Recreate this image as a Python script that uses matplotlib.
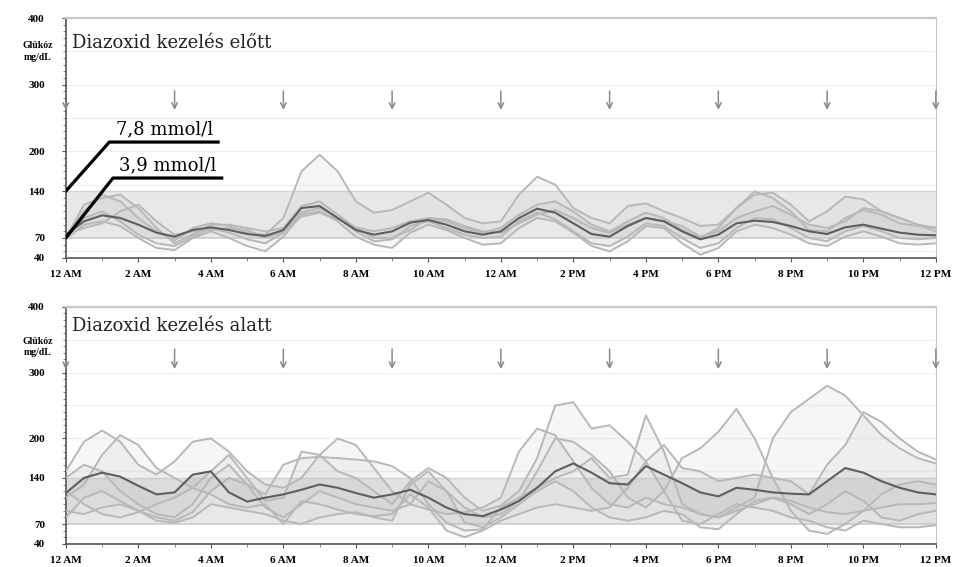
import matplotlib
matplotlib.use('Agg')
import matplotlib.pyplot as plt
import numpy as np

# time axis (hours after midnight, every 30 min)
hours = np.arange(0, 24.5, 0.5)

xtick_hours = [0, 2, 4, 6, 8, 10, 12, 14, 16, 18, 20, 22, 24]
xtick_labels = ['12 AM', '2 AM', '4 AM', '6 AM', '8 AM', '10 AM', '12 AM',
                '2 PM', '4 PM', '6 PM', '8 PM', '10 PM', '12 PM']
ytick_values = [40, 70, 140, 200, 300, 400]
target_low, target_high = 70, 140
meal_hours = [0, 3, 6, 9, 12, 15, 18, 21, 24]

# glucose curves before treatment (mg/dL)
before_mean = [75, 95, 104, 100, 90, 78, 72, 82, 86, 82, 76, 73, 82, 115, 118, 100, 82,
               75, 80, 93, 97, 90, 80, 75, 80, 100, 114, 108, 92, 76, 72, 88, 100, 95,
               80, 68, 75, 92, 96, 94, 88, 80, 76, 86, 90, 84, 78, 75, 74]
before_1 = [72, 110, 135, 125, 100, 80, 66, 85, 92, 88, 78, 75, 100, 170, 195, 170, 125,
            108, 112, 125, 138, 120, 100, 92, 95, 135, 162, 150, 115, 100, 92, 118, 122,
            110, 100, 88, 90, 115, 135, 138, 120, 95, 110, 132, 128, 110, 100, 90, 85]
before_2 = [70, 120, 130, 135, 115, 85, 62, 75, 90, 90, 85, 80, 85, 118, 125, 105, 85,
            70, 70, 82, 100, 95, 85, 78, 85, 105, 120, 125, 110, 90, 80, 95, 108, 100,
            82, 70, 85, 115, 140, 130, 110, 82, 80, 100, 112, 105, 92, 88, 86]
before_3 = [68, 90, 95, 88, 70, 55, 52, 70, 80, 70, 58, 50, 72, 105, 110, 95, 72, 60, 55,
            78, 90, 82, 70, 60, 62, 85, 100, 95, 78, 58, 50, 65, 88, 85, 62, 45, 55, 80,
            90, 85, 75, 62, 58, 72, 80, 72, 62, 60, 62]
before_4 = [70, 100, 110, 95, 75, 62, 58, 72, 85, 78, 68, 62, 78, 108, 115, 100, 80, 65,
            68, 88, 95, 85, 75, 70, 72, 95, 108, 98, 80, 62, 58, 72, 92, 88, 70, 55, 62,
            85, 100, 98, 85, 70, 65, 80, 88, 80, 70, 68, 70]
before_5 = [75, 85, 92, 110, 120, 95, 75, 80, 82, 85, 82, 70, 80, 102, 108, 98, 86, 80,
            85, 95, 100, 98, 88, 80, 78, 92, 105, 112, 100, 85, 78, 90, 100, 96, 88, 72,
            80, 100, 110, 118, 105, 90, 85, 95, 115, 110, 100, 90, 80]

# glucose curves during treatment (mg/dL)
during_mean = [117, 140, 148, 142, 128, 115, 118, 145, 150, 118, 104, 110, 115, 122, 130,
               125, 117, 110, 115, 122, 110, 95, 85, 82, 92, 105, 125, 150, 162, 148, 132,
               130, 158, 145, 132, 118, 112, 125, 122, 118, 116, 115, 135, 155, 148, 135,
               125, 118, 115]
during_1 = [150, 195, 212, 195, 160, 145, 165, 195, 200, 180, 150, 130, 125, 140, 175, 200,
            190, 155, 120, 100, 92, 85, 88, 95, 110, 180, 215, 205, 165, 125, 100, 95, 110,
            100, 95, 85, 80, 90, 100, 110, 105, 95, 88, 85, 90, 95, 100, 100, 102]
during_2 = [110, 130, 175, 205, 190, 155, 140, 125, 150, 175, 140, 105, 110, 180, 175, 150,
            140, 120, 100, 135, 155, 140, 110, 90, 98, 120, 170, 250, 255, 215, 220, 195,
            165, 190, 155, 150, 135, 140, 145, 140, 135, 115, 160, 190, 240, 225, 200, 180,
            168]
during_3 = [90, 85, 95, 100, 90, 80, 75, 88, 120, 140, 130, 115, 160, 170, 172, 170, 168,
            165, 158, 140, 100, 72, 60, 62, 95, 110, 125, 140, 150, 170, 140, 145, 235, 180,
            100, 85, 80, 95, 110, 200, 240, 260, 280, 265, 235, 205, 185, 170, 162]
during_4 = [140, 160, 150, 120, 100, 85, 80, 100, 140, 160, 130, 95, 80, 100, 120, 110, 100,
            95, 90, 100, 135, 120, 95, 80, 85, 105, 150, 200, 195, 175, 150, 110, 95, 120,
            170, 185, 210, 245, 200, 140, 90, 60, 55, 70, 90, 115, 130, 135, 130]
during_5 = [80, 110, 120, 105, 90, 75, 72, 80, 100, 95, 90, 85, 75, 70, 80, 85, 88, 80, 75,
            130, 150, 120, 72, 65, 80, 100, 120, 135, 120, 95, 80, 75, 80, 90, 85, 65, 62,
            85, 105, 110, 100, 85, 100, 120, 105, 80, 75, 85, 90]
during_6 = [120, 100, 85, 80, 88, 100, 110, 125, 115, 100, 95, 100, 70, 105, 100, 92, 85,
            82, 85, 115, 95, 60, 50, 60, 75, 85, 95, 100, 95, 90, 95, 125, 165, 120, 75, 70,
            85, 100, 95, 90, 80, 75, 65, 60, 75, 70, 65, 65, 68]

panels = [
    ('Diazoxid kezelés előtt', before_mean,
     [before_1, before_2, before_3, before_4, before_5]),
    ('Diazoxid kezelés alatt', during_mean,
     [during_1, during_2, during_3, during_4, during_5, during_6]),
]

serif = 'Liberation Serif'
wide_serif = 'DejaVu Serif'
fig = plt.figure(figsize=(9.54, 5.67), dpi=100)
axes = [fig.add_axes([0.069, 0.545, 0.912, 0.423]),
        fig.add_axes([0.069, 0.041, 0.912, 0.418])]

for i, (ax, (title, mean, curves)) in enumerate(zip(axes, panels)):
    ax.set_xlim(0, 24)
    ax.set_ylim(40, 400)
    for g in range(50, 401, 50):
        ax.axhline(g, color='#f0f0f0', lw=1, zorder=0)
    ax.axhspan(target_low, target_high, color='#e8e8e8', lw=0, zorder=1)
    ax.axhline(target_low, color='#cccccc', lw=1.2, zorder=1)
    ax.axhline(target_high, color='#d4d4d4', lw=1, zorder=1)

    for c in curves:
        ax.fill_between(hours, c, mean, color='#b8b8b8', alpha=0.12, lw=0, zorder=2)
        ax.plot(hours, c, color='#b8b8b8', lw=1.4, zorder=3, solid_joinstyle='round')
    ax.plot(hours, mean, color='#5e5e5e', lw=1.5, zorder=4, solid_joinstyle='round')

    # meal arrows
    top, tip = (295, 258) if i == 0 else (340, 301)
    for h in meal_hours:
        t = top - 18 if h == 0 else top
        ax.annotate('', xy=(h, tip), xytext=(h, t),
                    arrowprops=dict(arrowstyle='->', color='#8a8a8a', lw=1.1,
                                    mutation_scale=10), zorder=5)

    ax.text(0.17, 362 if i == 0 else 370, title, fontsize=13,
            family=wide_serif, va='center', ha='left', color='#222222')

    ax.set_xticks(xtick_hours)
    ax.set_xticklabels(xtick_labels, family=serif, fontweight='bold', fontsize=8)
    ax.set_xticks(range(25), minor=True)
    ax.set_yticks(ytick_values)
    ax.set_yticklabels([str(v) for v in ytick_values], family=serif,
                       fontweight='bold', fontsize=8)
    ax.set_yticks(range(40, 401, 10), minor=True)
    ax.tick_params(axis='both', which='major', length=3, color='#555555', pad=6)
    ax.tick_params(axis='both', which='minor', length=2, color='#777777')
    ax.tick_params(axis='y', pad=12)
    for s in ['top', 'right']:
        ax.spines[s].set_color('#c8c8c8')
    ax.spines['top'].set_linewidth(1.6)
    for s in ['left', 'bottom']:
        ax.spines[s].set_color('#555555')
        ax.spines[s].set_linewidth(1.2)

    ax.text(-0.032, 0.86 if i == 0 else 0.83, 'Glükóz\nmg/dL',
            transform=ax.transAxes, family=serif, fontweight='bold', fontsize=7,
            ha='center', va='center', linespacing=1.4)

# mmol/l reference labels in the first panel
ax = axes[0]
high_mmol, low_mmol = 7.8, 3.9
ax.plot([0, 1.2, 4.2], [high_mmol * 18, 214, 214], color='black', lw=2.3, zorder=6)
ax.plot([0, 1.3, 4.3], [low_mmol * 18, 160, 160], color='black', lw=2.3, zorder=6)
ax.text(2.72, 220, '7,8 mmol/l', family=wide_serif, fontsize=13, ha='center', va='bottom')
ax.text(2.8, 166, '3,9 mmol/l', family=wide_serif, fontsize=13, ha='center', va='bottom')

plt.savefig('out.png', dpi=100)
